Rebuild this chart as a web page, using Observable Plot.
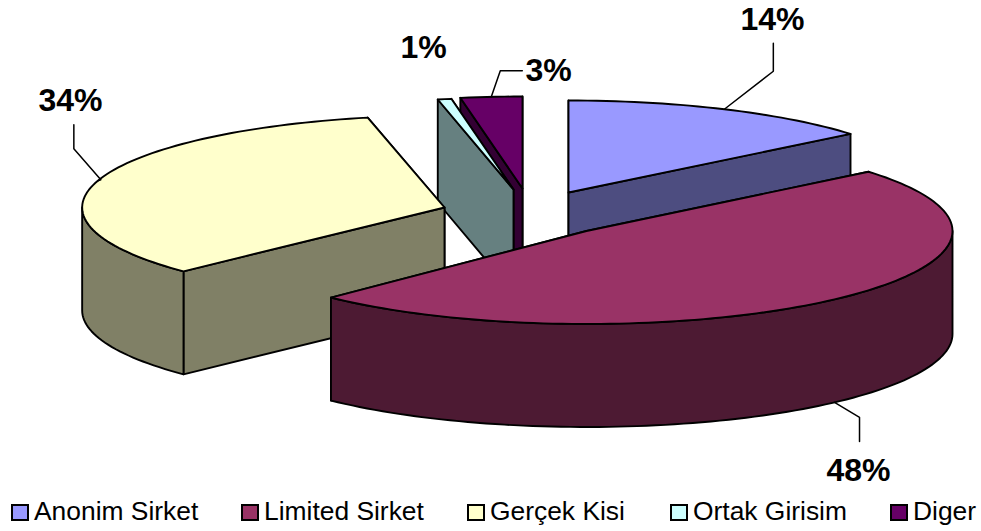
<!DOCTYPE html>
<html><head><meta charset="utf-8">
<script src="https://cdn.jsdelivr.net/npm/d3@7"></script>
<script src="https://cdn.jsdelivr.net/npm/@observablehq/plot@0.6"></script>
<style>
html,body{margin:0;padding:0;background:#fff;width:981px;height:531px;overflow:hidden}
#legend{position:relative;height:36px;font:26.4px "Liberation Sans",Arial,sans-serif;color:#000}
#legend span.i{position:absolute;top:1px;white-space:nowrap;line-height:30px}
#legend i{display:inline-block;box-sizing:border-box;width:18px;height:17px;border:2px solid #000;vertical-align:-1px;margin-right:5px}
svg{display:block}
</style></head><body>
<div id="chart"></div><div id="legend"></div>
<script>
// data
const categories = ["Anonim Sirket","Limited Sirket","Gerçek Kisi","Ortak Girisim","Diger"];
const values = [14, 48.3, 33.8, 0.6, 2.7];
const labels = ["14%","48%","34%","1%","3%"];
const topColors = ["#9999FF","#993366","#FFFFCC","#CCFFFF","#660066"];
const sideColors = ["#4D4D80","#4D1A33","#808066","#668080","#330033"];

// layout
const W = 981, H = 495, RX = 366, DEPTH = 103;
const radiusY = [92,93,92,92,92];
const apexX = [568,586,444,513,522], apexY = [192,230.5,207,189,188];
const angleNudge = [0,0,1.8,0.3,0];
const rxScale = [1,1,0.99,1,1];
const drawOrder = [4,3,0,2,1];
const legendX = [11,241,467,670,890];
const labelPos = [[772,19],[858,470],[70,100],[423,47],[548,70]];
const leaderDx = [[[49,-38],[49,-66]],[[25,15],[25,39]],[[3,-1],[-24,-32],[-24,-56]],null,[[9,-26],[31,-26]]];

const rad = d => d*Math.PI/180;
let cum = 0;
const slices = values.map((v,i)=>{
  cum += angleNudge[i];
  const a0 = cum; cum += v*3.6; const a1 = i===values.length-1 ? 360 : cum;
  return {i,a0,a1,ax:apexX[i],ay:apexY[i],rx:RX*rxScale[i],ry:radiusY[i]};
});
const rim = (s,a,dz=0)=>({x:s.ax+s.rx*Math.sin(rad(a)),y:s.ay-s.ry*Math.cos(rad(a))+dz});
const range = (a0,a1)=>{const n=Math.max(2,Math.ceil((a1-a0)/1.5));return d3.range(n+1).map(k=>a0+(a1-a0)*k/n)};
const polys = [];
for (const i of drawOrder){
  const s = slices[i], side = sideColors[i];
  const apex = {x:s.ax,y:s.ay}, apexL = {x:s.ax,y:s.ay+DEPTH};
  const cuts = [s.a0,s.a1].map(a=>({p:rim(s,a)})).sort((u,v)=>u.p.y-v.p.y);
  for (const c of cuts) polys.push({pts:[apex,c.p,{x:c.p.x,y:c.p.y+DEPTH},apexL,apex],fill:side});
  const f0 = Math.max(s.a0,90), f1 = Math.min(s.a1,270);
  if (f1>f0){
    const as = range(f0,f1);
    const pts = [...as.map(a=>rim(s,a)),...as.slice().reverse().map(a=>rim(s,a,DEPTH))];
    pts.push(pts[0]);
    polys.push({pts,fill:side});
  }
  const t = [apex,...range(s.a0,s.a1).map(a=>rim(s,a)),apex];
  polys.push({pts:t,fill:topColors[i]});
}
const leaders = leaderDx.map((d,i)=>{
  if(!d) return null;
  const s = slices[i], m=(s.a0+s.a1)/2, dz = i===1?DEPTH:0, p=rim(s,m,dz);
  return [p,...d.map(o=>({x:p.x+o[0],y:p.y+o[1]}))];
}).filter(Boolean);

const plot = Plot.plot({
  width:W,height:H,margin:0,
  x:{domain:[0,W],range:[0,W],axis:null},
  y:{domain:[0,H],range:[0,H],axis:null},
  marks:[
    ...polys.map(p=>Plot.line(p.pts,{x:"x",y:"y",fill:p.fill,stroke:"#000",strokeWidth:1.9,strokeLinejoin:"round"})),
    ...leaders.map(l=>Plot.line(l,{x:"x",y:"y",stroke:"#000",strokeWidth:1.5})),
    Plot.text(labels,{x:(d,i)=>labelPos[i][0],y:(d,i)=>labelPos[i][1],text:d=>d,fontSize:32,fontWeight:"bold",fontFamily:"Liberation Sans",fill:"#000"})
  ],
  style:{background:"#fff",fontFamily:"Liberation Sans"}
});
document.getElementById("chart").append(plot);
const lg=document.getElementById("legend");
categories.forEach((c,i)=>{
  const e=document.createElement("span");e.className="i";e.style.left=legendX[i]+"px";
  const b=document.createElement("i");b.style.background=topColors[i];
  e.append(b,document.createTextNode(c));lg.append(e);
});
</script></body></html>
